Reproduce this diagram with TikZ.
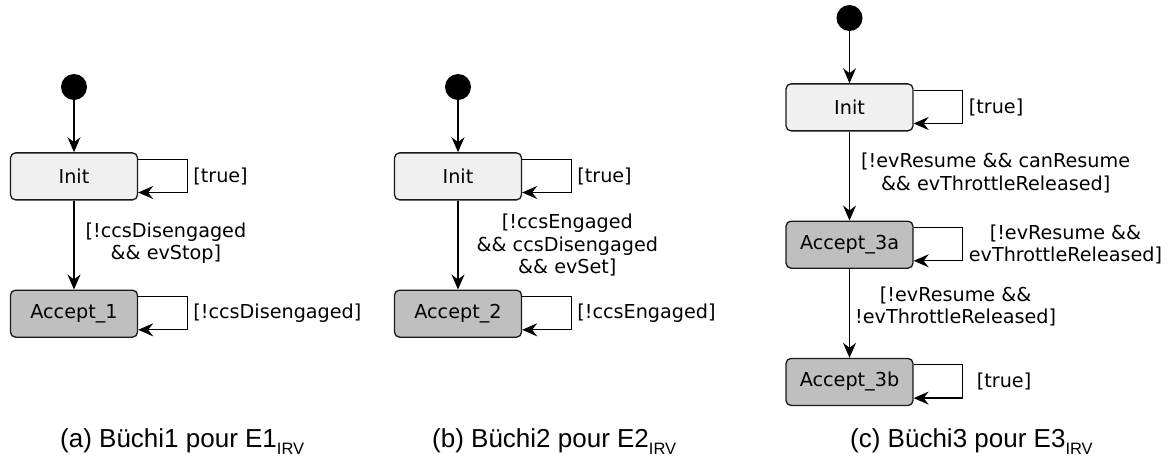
\documentclass[tikz,border=0pt]{standalone}
\usepackage{fontspec}
\setmainfont{DejaVu Sans}
\newfontfamily\capfont{Liberation Sans}
\usetikzlibrary{arrows.meta, positioning}

\begin{document}
\begin{tikzpicture}[x=1pt, y=-1pt, node distance=89pt,
    every node/.style={font=\fontsize{19.2}{22.5}\selectfont},
    start/.style={circle, fill=black, minimum size=26pt, inner sep=0pt},
    state/.style={rectangle, draw=black!90, rounded corners=5pt, line width=1.3pt, fill=gray!12, minimum width=127pt, minimum height=47pt},
    accept/.style={state, fill=gray!50},
    guard/.style={align=center, inner sep=0pt},
    trans/.style={-{Stealth[length=15pt, width=13pt, inset=5pt]}, line width=1.3pt},
    caption/.style={font=\capfont\fontsize{26}{30}\selectfont, anchor=base west, inner sep=0pt}]
    \useasboundingbox (0,0) rectangle (1172,459);

    % (a) Buchi1
    \node (dotA) [start] at (74,87) {};
    \node (initA) [state, below=52pt of dotA] {Init};
    \node (accA) [accept, below=of initA] {Accept\_1};
    \draw [trans] (dotA) -- (initA);
    \draw [trans] (initA) -- node[guard, right=11pt, yshift=2pt] (gA) {[!ccsDisengaged\\\&\& evStop]} (accA);
    \draw [trans] ([yshift=-7pt]initA.north east) -- ++(49,0) |- ([yshift=8pt]initA.south east);
    \draw [trans] ([yshift=-7pt]accA.north east) -- ++(49,0) |- ([yshift=8pt]accA.south east);
    \node (tA) [guard, anchor=west] at ([xshift=55pt]initA.east) {[true]};
    \node (lA) [guard, anchor=west] at ([xshift=55pt]accA.east) {[!ccsDisengaged]};

    % (b) Buchi2
    \node (dotB) [start] at (458,87) {};
    \node (initB) [state, below=52pt of dotB] {Init};
    \node (accB) [accept, below=of initB] {Accept\_2};
    \draw [trans] (dotB) -- (initB);
    \draw [trans] (initB) -- node[guard, right=18pt] (gB) {[!ccsEngaged\\\&\& ccsDisengaged\\\&\& evSet]} (accB);
    \draw [trans] ([yshift=-7pt]initB.north east) -- ++(49,0) |- ([yshift=8pt]initB.south east);
    \draw [trans] ([yshift=-7pt]accB.north east) -- ++(49,0) |- ([yshift=8pt]accB.south east);
    \node (tB) [guard, anchor=west] at ([xshift=55pt]initB.east) {[true]};
    \node (lB) [guard, anchor=west] at ([xshift=55pt]accB.east) {[!ccsEngaged]};

    % (c) Buchi3
    \node (dotC) [start] at (849.5,18) {};
    \node (initC) [state, below=52pt of dotC] {Init};
    \node (accC) [accept, below=of initC] {Accept\_3a};
    \node (accD) [accept, below=of accC] {Accept\_3b};
    \draw [trans] (dotC) -- (initC);
    \draw [trans] (initC) -- node[guard, right=11pt, yshift=3pt] (gC) {[!evResume \&\& canResume\\\&\& evThrottleReleased]} (accC);
    \draw [trans] (accC) -- node[guard, right=5pt, yshift=7pt] (gD) {[!evResume \&\&\\!evThrottleReleased]} (accD);
    \draw [trans] ([yshift=-7pt]initC.north east) -- ++(49,0) |- ([yshift=8pt]initC.south east);
    \draw [trans] ([yshift=-7pt]accC.north east) -- ++(49,0) |- ([yshift=8pt]accC.south east);
    \draw [trans] ([yshift=-7pt]accD.north east) -- ++(49,0) |- ([yshift=8pt]accD.south east);
    \node (tC) [guard, anchor=west] at ([xshift=55pt]initC.east) {[true]};
    \node (lC) [guard, anchor=west] at ([xshift=55pt]accC.east) {[!evResume \&\&\\evThrottleReleased]};
    \node (tD) [guard, anchor=west] at ([xshift=63pt]accD.east) {[true]};

    % captions
    \node (capA) [caption] at (60,447) {(a) Büchi1 pour E1\raisebox{-7pt}{\fontsize{16.5}{17}\selectfont IRV}};
    \node (capB) [caption] at (432,447) {(b) Büchi2 pour E2\raisebox{-7pt}{\fontsize{16.5}{17}\selectfont IRV}};
    \node (capC) [caption] at (850,447) {(c) Büchi3 pour E3\raisebox{-7pt}{\fontsize{16.5}{17}\selectfont IRV}};
\end{tikzpicture}
\end{document}
